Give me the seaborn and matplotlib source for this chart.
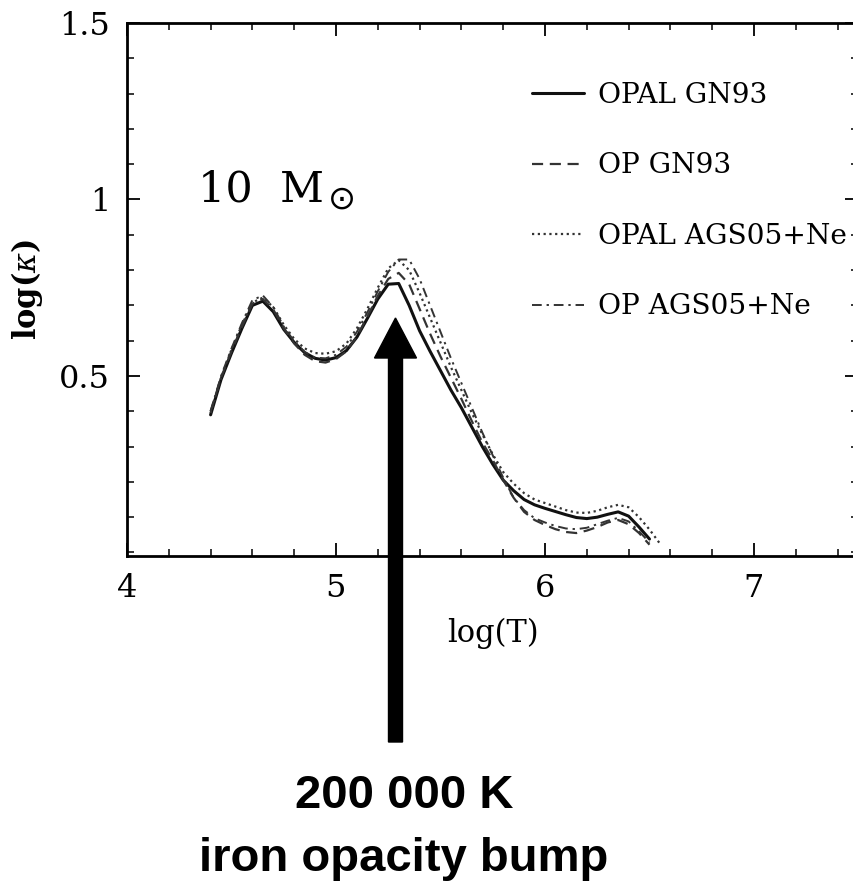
import numpy as np
import pandas as pd
import matplotlib
matplotlib.use("Agg")
import matplotlib.pyplot as plt
import seaborn as sns
from matplotlib.patches import FancyArrow
from matplotlib.ticker import MultipleLocator, FixedLocator, FixedFormatter

# ---------------- data ----------------
log_T = [4.40, 4.45, 4.50, 4.55, 4.60, 4.65, 4.70, 4.75, 4.80, 4.85,
         4.90, 4.95, 5.00, 5.05, 5.10, 5.15, 5.20, 5.25, 5.30, 5.35,
         5.40, 5.45, 5.50, 5.55, 5.60, 5.65, 5.70, 5.75, 5.80, 5.85,
         5.90, 5.95, 6.00, 6.05, 6.10, 6.15, 6.20, 6.25, 6.30, 6.35,
         6.40, 6.45, 6.50, 6.55]

opal_gn93 = [0.390, 0.490, 0.565, 0.635, 0.700, 0.712, 0.682, 0.632, 0.595, 0.566,
             0.550, 0.545, 0.552, 0.572, 0.610, 0.663, 0.718, 0.760, 0.762, 0.700,
             0.628, 0.570, 0.515, 0.460, 0.410, 0.355, 0.300, 0.250, 0.205, 0.175,
             0.150, 0.135, 0.125, 0.116, 0.107, 0.099, 0.096, 0.100, 0.108, 0.115,
             0.103, 0.072, 0.038, np.nan]

op_gn93 = [0.400, 0.495, 0.570, 0.640, 0.705, 0.718, 0.688, 0.635, 0.592, 0.560,
           0.542, 0.538, 0.548, 0.570, 0.612, 0.668, 0.727, 0.775, 0.792, 0.760,
           0.690, 0.620, 0.555, 0.495, 0.435, 0.372, 0.312, 0.262, 0.205, 0.155,
           0.115, 0.092, 0.078, 0.066, 0.058, 0.055, 0.062, 0.072, 0.085, 0.092,
           0.080, 0.055, 0.022, np.nan]

opal_ags05 = [0.395, 0.495, 0.575, 0.645, 0.708, 0.722, 0.695, 0.645, 0.605, 0.578,
              0.565, 0.563, 0.570, 0.592, 0.635, 0.690, 0.750, 0.805, 0.828, 0.800,
              0.735, 0.665, 0.595, 0.525, 0.460, 0.395, 0.335, 0.278, 0.228, 0.195,
              0.168, 0.150, 0.140, 0.130, 0.120, 0.113, 0.112, 0.118, 0.128, 0.135,
              0.128, 0.100, 0.065, 0.025]

op_ags05 = [0.400, 0.500, 0.578, 0.650, 0.715, 0.728, 0.695, 0.640, 0.598, 0.568,
            0.552, 0.550, 0.560, 0.583, 0.625, 0.680, 0.740, 0.795, 0.830, 0.830,
            0.775, 0.700, 0.625, 0.550, 0.480, 0.410, 0.340, 0.275, 0.212, 0.155,
            0.120, 0.097, 0.085, 0.075, 0.068, 0.066, 0.070, 0.080, 0.090, 0.098,
            0.088, 0.060, 0.028, np.nan]

series_labels = ["OPAL GN93", "OP GN93", "OPAL AGS05+Ne", "OP AGS05+Ne"]
x_ticks = [4, 5, 6, 7]
x_ticklabels = ["4", "5", "6", "7"]
y_ticks = [0.5, 1.0, 1.5]
y_ticklabels = ["0.5", "1", "1.5"]

# ---------------- styling ----------------
sns.set_theme(style="ticks")
plt.rcParams["font.family"] = ["DejaVu Serif", "DejaVu Sans"]
plt.rcParams["mathtext.fontset"] = "dejavuserif"

fig = plt.figure(figsize=(8.54, 8.83), dpi=100)
ax = fig.add_axes([127 / 854, 1 - 556 / 883, 731.5 / 854, 533 / 883])

styles = [
    dict(color="#111111", linewidth=2.2, ls="-"),
    dict(color="#333333", linewidth=1.6, ls=(0, (5, 3))),
    dict(color="#333333", linewidth=1.6, ls=(0, (1, 1.6))),
    dict(color="#333333", linewidth=1.4, ls=(0, (5, 2.5, 1.2, 2.5))),
]

all_series = [opal_gn93, op_gn93, opal_ags05, op_ags05]
handles = []
for vals, lab, st in zip(all_series, series_labels, styles):
    df = pd.DataFrame({"logT": log_T, "logk": vals}).dropna()
    n_before = len(ax.lines)
    sns.lineplot(data=df, x="logT", y="logk", ax=ax, color=st["color"],
                 linewidth=st["linewidth"], sort=False, legend=False)
    line = ax.lines[n_before]
    line.set_linestyle(st["ls"])
    line.set_label(lab)
    handles.append(line)

ax.set_xlim(4, 7.5)
ax.set_ylim(-0.01, 1.5)

ax.xaxis.set_major_locator(FixedLocator(x_ticks))
ax.xaxis.set_major_formatter(FixedFormatter(x_ticklabels))
ax.xaxis.set_minor_locator(MultipleLocator(0.2))
ax.yaxis.set_major_locator(FixedLocator(y_ticks))
ax.yaxis.set_major_formatter(FixedFormatter(y_ticklabels))
ax.yaxis.set_minor_locator(MultipleLocator(0.1))

ax.tick_params(which="both", direction="in", top=True, right=True,
               color="black", labelsize=23, labelcolor="black")
ax.tick_params(which="major", length=9.5, width=1.3)
ax.tick_params(which="minor", length=5, width=1.1)
ax.tick_params(axis="x", which="major", pad=12)
ax.tick_params(axis="y", which="major", pad=12)

for sp in ax.spines.values():
    sp.set_color("black")
    sp.set_linewidth(2.0)

ax.set_xlabel("log(T)", fontsize=22, color="black", labelpad=10)
ax.set_ylabel(r"log($\kappa$)", fontsize=22, color="black", labelpad=10,
              fontweight="bold")

ax.text(4.34, 0.995, "10  M", fontsize=31, color="black", ha="left",
        va="baseline")
ax.text(5.03, 1.0, "\u2299", fontsize=24, color="black", ha="center",
        va="center", family=["DejaVu Sans"])

leg = ax.legend(handles=handles, labels=series_labels,
                loc="upper left", bbox_to_anchor=(532 / 854, 1 - 82 / 883),
                bbox_transform=fig.transFigure, frameon=False,
                fontsize=20.2, handlelength=1.85, handletextpad=0.5,
                labelspacing=1.55, borderpad=0, borderaxespad=0)
for t in leg.get_texts():
    t.set_color("black")

# Arrow and annotation below the axes
arrow = FancyArrow(3.955, 1.41, 0, 4.24, width=0.14, head_width=0.42,
                   head_length=0.40, length_includes_head=True,
                   transform=fig.dpi_scale_trans, color="black", zorder=10)
fig.add_artist(arrow)

fig.text(404 / 854, 1 - 808 / 883, "200 000 K", ha="center", va="baseline",
         fontsize=34, fontweight="bold", family="Liberation Sans", color="black")
fig.text(404 / 854, 1 - 871 / 883, "iron opacity bump", ha="center",
         va="baseline", fontsize=34, fontweight="bold", family="Liberation Sans",
         color="black")

fig.savefig("out.png", dpi=100)
